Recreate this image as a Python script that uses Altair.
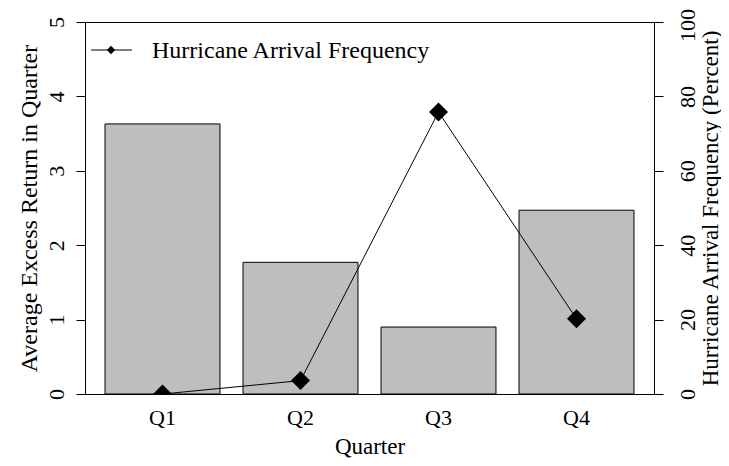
import altair as alt
import pandas as pd

# ---- data ----
quarters = ["Q1", "Q2", "Q3", "Q4"]
excess_return = [3.63, 1.77, 0.90, 2.47]        # left axis, bars
hurricane_freq = [0.0, 3.6, 75.8, 20.2]         # right axis, line (percent)
left_ticks = [0, 1, 2, 3, 4, 5]
right_ticks = [0, 20, 40, 60, 80, 100]
legend_label = ["Hurricane Arrival Frequency"]

df = pd.DataFrame({"Quarter": quarters, "ret": excess_return, "freq": hurricane_freq})
legend_df = pd.DataFrame({"label": legend_label})

FONT = "Liberation Serif"
TICK_FS = 22
TITLE_FS = 24

x_enc = alt.X(
    "Quarter:N",
    sort=quarters,
    scale=alt.Scale(paddingInner=0.167, paddingOuter=0.145),
    axis=alt.Axis(
        title="Quarter",
        labelAngle=0,
        ticks=False,
        tickSize=0,
        domain=True,
        labelPadding=30,
        labelBaseline="alphabetic",
        titleBaseline="alphabetic",
        titleFontSize=23,
        titleY=59,
    ),
)

bars = alt.Chart().mark_bar(color="#bebebe", stroke="black", strokeWidth=1).encode(
    x=x_enc,
    y=alt.Y(
        "ret:Q",
        scale=alt.Scale(domain=[0, 5], nice=False, zero=True),
        axis=alt.Axis(
            orient="left",
            values=left_ticks,
            title="Average Excess Return in Quarter",
            labelAngle=270,
            labelAlign="center",
            labelBaseline="alphabetic",
            labelOverlap=False,
            tickSize=9,
            labelPadding=13,
            titleAngle=270,
            titleBaseline="alphabetic",
            titleX=-49,
            titleY=186,
            grid=False,
        ),
    ),
)

y_right = alt.Y(
    "freq:Q",
    scale=alt.Scale(domain=[0, 100], nice=False),
    axis=alt.Axis(
        orient="right",
        values=right_ticks,
        title="Hurricane Arrival Frequency (Percent)",
        labelAngle=270,
        labelAlign="center",
        labelBaseline="alphabetic",
        labelOverlap=False,
        labelOffset={"condition": {"test": "datum.value == 100", "value": 3}, "value": 0},
        tickSize=9,
        labelPadding=31,
        titleAngle=270,
        titleBaseline="alphabetic",
        titleFontSize=23,
        titleX=63,
        titleY=186,
        grid=False,
    ),
)

line = alt.Chart().mark_line(color="black", strokeWidth=1, clip=True).encode(
    x=alt.X("Quarter:N", sort=quarters), y=y_right
)
points = alt.Chart().mark_point(
    shape="diamond", filled=True, size=361, color="black", opacity=1, clip=True
).encode(x=alt.X("Quarter:N", sort=quarters), y=y_right)

freq_layer = alt.layer(line, points)

# ---- legend drawn inside the plot, top left ----
leg_rule = alt.Chart(legend_df).mark_rule(color="black", strokeWidth=1).encode(
    x=alt.value(6), x2=alt.value(47), y=alt.value(28)
)
leg_pt = alt.Chart(legend_df).mark_point(
    shape="diamond", filled=True, size=70, color="black", opacity=1
).encode(x=alt.value(26), y=alt.value(28))
leg_text = alt.Chart(legend_df).mark_text(
    align="left", baseline="alphabetic", font=FONT, fontSize=TITLE_FS, color="black"
).encode(x=alt.value(67), y=alt.value(36), text="label:N")

chart = (
    alt.layer(bars, freq_layer, leg_rule, leg_pt, leg_text, data=df)
    .resolve_scale(y="independent")
    .properties(
        width=569,
        height=372,
        autosize=alt.AutoSizeParams(type="none"),
        padding={"left": 77, "top": 14, "right": 67, "bottom": 64},
    )
    .configure(font=FONT)
    .configure_view(stroke="black", strokeWidth=1)
    .configure_axis(
        labelFont=FONT,
        titleFont=FONT,
        labelFontSize=TICK_FS,
        titleFontSize=TITLE_FS,
        labelColor="black",
        titleColor="black",
        titleFontWeight="normal",
        tickColor="black",
        domainColor="black",
        tickWidth=1,
        domainWidth=1,
    )
)

chart.save("out.html", embed_options={"renderer": "svg", "actions": False})
